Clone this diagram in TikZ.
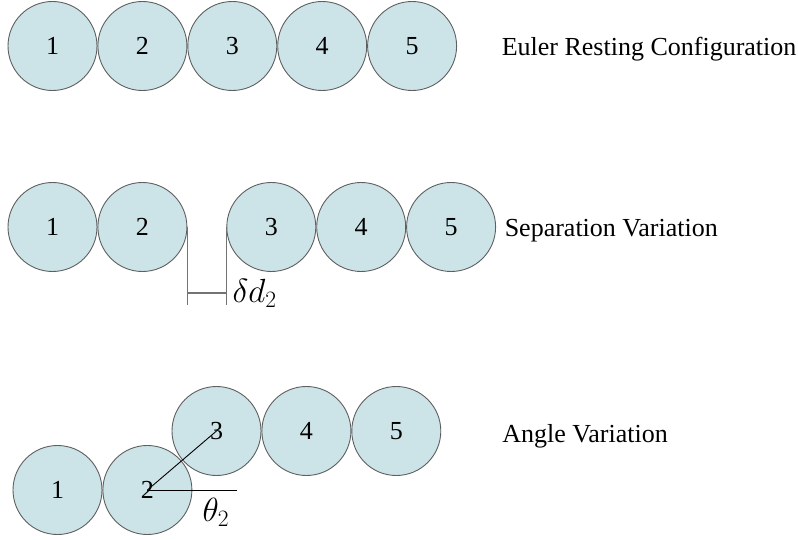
\RequirePackage{fix-cm}
\documentclass[tikz,border=0pt]{standalone}
\usepackage{fontspec}
\IfFontExistsTF{LiberationSerif-Regular.ttf}
  {\setmainfont{LiberationSerif-Regular.ttf}[BoldFont=LiberationSerif-Bold.ttf]}
  {\setmainfont{Liberation Serif}}
\usepackage{tikz}
\usetikzlibrary{positioning}
\definecolor{ballfill}{RGB}{204,228,232}
\definecolor{ballline}{RGB}{95,95,95}
\tikzstyle{ball} = [circle, draw=ballline, fill=ballfill, line width=0.9pt, minimum size=89pt, inner sep=0pt, font=\rmfamily\fontsize{26}{30}\selectfont]
\tikzstyle{rowtitle} = [font=\rmfamily\fontsize{26}{30}\selectfont, inner sep=4pt]
\tikzstyle{mathlabel} = [font=\fontsize{33.5}{40}\selectfont, inner sep=4pt]
\tikzstyle{dimline} = [draw=black!55, line width=1.2pt]

\begin{document}
\begin{tikzpicture}[x=1pt, y=-1pt]
  \useasboundingbox (0,0) rectangle (798,540);
  % Euler resting configuration
  \node[ball] (e1) at (52.5,46) {1};
  \node[ball, right=0pt of e1] (e2) {2};
  \node[ball, right=0pt of e2] (e3) {3};
  \node[ball, right=0pt of e3] (e4) {4};
  \node[ball, right=0pt of e4] (e5) {5};
  \node[rowtitle, right=40.5pt of e5, yshift=-3pt] (euler) {Euler Resting Configuration};

  % Separation variation
  \node[ball] (s1) at (52.5,227) {1};
  \node[ball, right=0pt of s1] (s2) {2};
  \node[ball, right=39pt of s2] (s3) {3};
  \node[ball, right=0pt of s3] (s4) {4};
  \node[ball, right=0pt of s4] (s5) {5};
  \node[rowtitle, right=4.5pt of s5, yshift=-4pt] (sep) {Separation Variation};
  \coordinate[below=78pt of s2.east] (s2low);
  \coordinate[below=78pt of s3.west] (s3low);
  \coordinate[below=66pt of s2.east] (s2mid);
  \coordinate[below=66pt of s3.west] (s3mid);
  \draw[dimline] (s2.east) -- (s2low);
  \draw[dimline] (s3.west) -- (s3low);
  \draw[dimline] (s2mid) -- (s3mid);
  \node[mathlabel, right=2pt of s3mid] (dd) {$\delta d_2$};

  % Angle variation
  \node[ball] (a1) at (57.5,490) {1};
  \node[ball, right=0pt of a1] (a2) {2};
  \node[ball] (a3) at (216.5,431) {3};
  \node[ball, right=0pt of a3] (a4) {4};
  \node[ball, right=0pt of a4] (a5) {5};
  \node[rowtitle, right=57pt of a5, yshift=-5pt] (ang) {Angle Variation};
  \coordinate[right=90pt of a2.center] (a2h);
  \draw[line width=0.9pt] (a2.center) -- (a3.center);
  \draw[line width=0.9pt] (a2.center) -- (a2h);
  \node[mathlabel, below right=4pt and 51pt of a2.center] (theta) {$\theta_2$};
\end{tikzpicture}
\end{document}
